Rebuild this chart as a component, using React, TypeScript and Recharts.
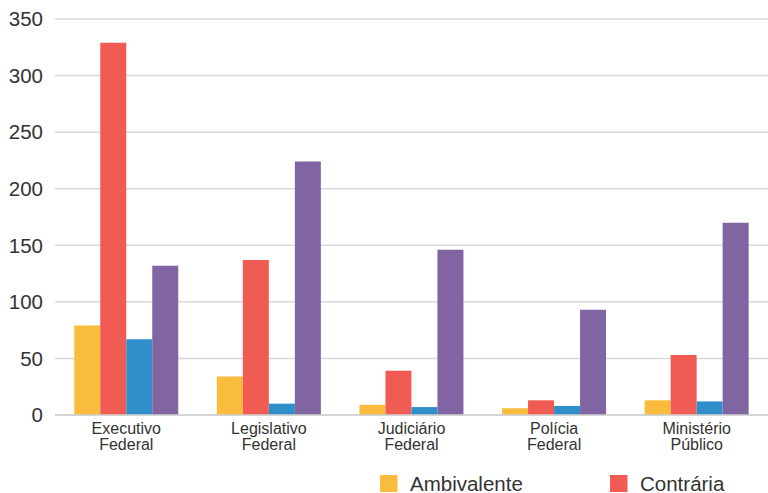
import { BarChart, Bar, XAxis, YAxis, CartesianGrid } from "recharts";

const categories = ["Executivo Federal", "Legislativo Federal", "Judiciário Federal", "Polícia Federal", "Ministério Público"];
const ambivalente = [79, 34, 9, 6, 13];
const contraria = [329, 137, 39, 13, 53];
const favoravel = [67, 10, 7, 8, 12];
const neutra = [132, 224, 146, 93, 170];
const yTicks = [0, 50, 100, 150, 200, 250, 300, 350];

const data = categories.map((name, i) => ({
  name,
  ambivalente: ambivalente[i],
  contraria: contraria[i],
  favoravel: favoravel[i],
  neutra: neutra[i],
}));

const legendItems = [
  { label: "Ambivalente", color: "#F9BC3C", left: 380, textLeft: 410 },
  { label: "Contrária", color: "#F05B53", left: 610, textLeft: 640 },
];

const font = '"Liberation Sans", Arial, sans-serif';

function CategoryTick({ x, y, payload }: any) {
  const words = String(payload.value).split(" ");
  return (
    <text x={x} y={y} textAnchor="middle" fill="#333" fontSize={16} fontFamily={font}>
      {words.map((w, i) => (
        <tspan key={i} x={x} dy={i === 0 ? 11 : 15.5}>
          {w}
        </tspan>
      ))}
    </text>
  );
}

export default function App() {
  return (
    <div style={{ position: "absolute", left: 0, top: 0, width: 768, height: 493, background: "#fff" }}>
      <BarChart
        width={768}
        height={493}
        data={data}
        margin={{ top: 19, right: 0, left: 0, bottom: 38 }}
        barCategoryGap="13.5%"
        barGap={0}
      >
        <CartesianGrid vertical={false} stroke="#d9d9d9" strokeWidth={1.5} />
        <XAxis
          dataKey="name"
          axisLine={{ stroke: "#d0d0d0", strokeWidth: 1.5 }}
          tickLine={false}
          height={40}
          interval={0}
          tick={<CategoryTick />}
        />
        <YAxis
          width={55}
          domain={[0, 350]}
          ticks={yTicks}
          axisLine={false}
          tickLine={false}
          tickMargin={6}
          tick={{ fill: "#333", fontSize: 20.5, fontFamily: font }}
        />
        <Bar dataKey="ambivalente" fill="#F9BC3C" isAnimationActive={false} />
        <Bar dataKey="contraria" fill="#F05B53" isAnimationActive={false} />
        <Bar dataKey="favoravel" fill="#2E8FCB" isAnimationActive={false} />
        <Bar dataKey="neutra" fill="#8065A2" isAnimationActive={false} />
      </BarChart>
      <svg width={768} height={493} style={{ position: "absolute", left: 0, top: 0, pointerEvents: "none" }}>
        {legendItems.map((item) => (
          <g key={item.label}>
            <rect x={item.left} y={475} width={17.5} height={17} fill={item.color} />
            <text x={item.textLeft} y={490.5} fontSize={20.5} fontFamily={font} fill="#333">
              {item.label}
            </text>
          </g>
        ))}
      </svg>
    </div>
  );
}
